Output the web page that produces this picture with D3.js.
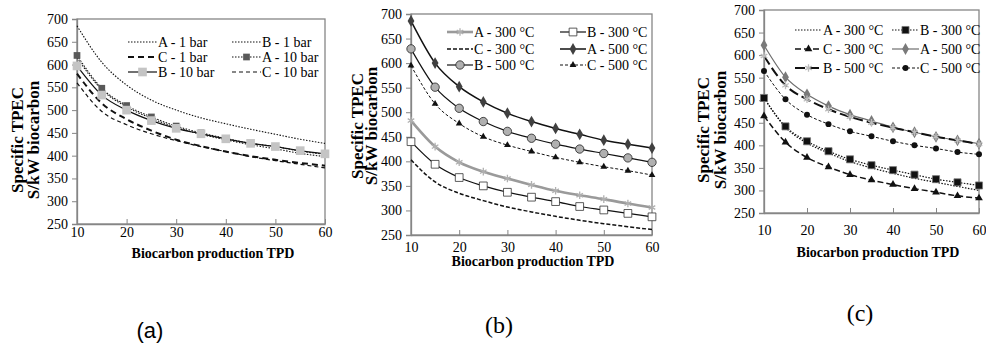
<!DOCTYPE html>
<html>
<head>
<meta charset="utf-8">
<script src="https://cdn.jsdelivr.net/npm/d3@7"></script>
<style>
  body { margin: 0; background: #fff; }
  svg { display: block; }
  svg text { font-family: "Times New Roman", "Liberation Serif", Times, "DejaVu Serif", serif; fill: #000; }
</style>
</head>
<body>
<svg id="chart" width="986" height="347"></svg>
<script>
// x positions shared by all panels (t/day)
var xValues = [10, 15, 20, 25, 30, 35, 40, 45, 50, 55, 60];
var xTicks = [10, 20, 30, 40, 50, 60];
var yTicks = [250, 300, 350, 400, 450, 500, 550, 600, 650, 700];

// panel (a) - pressure
var aA1bar  = [685, 605, 555, 522, 500, 483, 470, 458, 447, 436, 427];
var aB1bar  = [615, 545, 507, 482, 462, 447, 435, 424, 415, 405, 398];
var aC1bar  = [580, 515, 480, 455, 435, 421, 409, 399, 391, 384, 378];
var aA10bar = [620, 548, 510, 485, 465, 450, 438, 427, 420, 410, 403];
var aB10bar = [597, 533, 500, 477, 460, 448, 437, 427, 420, 411, 404];
var aC10bar = [560, 497, 468, 448, 433, 420, 409, 398, 389, 381, 373];

// panel (b) - temperature
var bA300 = [483, 430, 398, 379, 365, 352, 340, 331, 323, 314, 306];
var bB300 = [440, 394, 367, 350, 337, 327, 318, 308, 301, 294, 287];
var bC300 = [403, 358, 335, 320, 307, 297, 288, 280, 273, 267, 261];
var bA500 = [686, 600, 552, 521, 498, 481, 467, 455, 443, 435, 427];
var bB500 = [629, 551, 508, 481, 461, 447, 435, 425, 416, 407, 398];
var bC500 = [595, 517, 477, 450, 433, 420, 408, 398, 389, 381, 372];

// panel (c)
var cA300 = [505, 440, 405, 383, 364, 350, 338, 327, 318, 309, 300];
var cB300 = [505, 442, 409, 387, 369, 356, 345, 335, 325, 318, 311];
var cC300 = [465, 407, 373, 352, 335, 323, 313, 304, 296, 288, 283];
var cA500 = [622, 551, 513, 487, 468, 454, 440, 429, 419, 411, 404];
var cB500 = [598, 533, 502, 480, 463, 450, 439, 429, 419, 411, 403];
var cC500 = [565, 502, 468, 447, 431, 420, 409, 400, 393, 385, 380];

var svg = d3.select("#chart");
var axisGrey = "#868686";
var serif = "'Times New Roman', 'Liberation Serif', Times, 'DejaVu Serif', serif";

var panels = [
  {
    box: {x0: 77, x1: 325, y0: 19, y1: 224},
    xLabY: 237, titleX: 213, titleY: 258, ytX: [17, 33], ytY: 140,
    tag: "(a)", tagX: 150, tagY: 338, tagFont: "'Liberation Sans', Arial, sans-serif", tagSize: 22,
    leg: {cols: [128, 232], len: 29, rows: [42, 57, 72]},
    series: [
      {name: "A - 1 bar",  v: aA1bar,  dash: "1.5,1.5", w: 1.1},
      {name: "B - 1 bar",  v: aB1bar,  dash: "1.5,1.5", w: 1.1},
      {name: "C - 1 bar",  v: aC1bar,  dash: "6,4", w: 2},
      {name: "A - 10 bar", v: aA10bar, dash: "1.5,1.5", w: 1.1, sym: d3.symbolSquare, size: 45, fill: "#595959"},
      {name: "B - 10 bar", v: aB10bar, w: 1.2, sym: d3.symbolSquare, size: 75, fill: "#c4c4c4"},
      {name: "C - 10 bar", v: aC10bar, dash: "4,3", w: 1.2}
    ]
  },
  {
    box: {x0: 411, x1: 652, y0: 14, y1: 235},
    xLabY: 252, titleX: 533, titleY: 266, ytX: [357, 371], ytY: 126,
    tag: "(b)", tagX: 499, tagY: 333, tagFont: serif, tagSize: 24,
    leg: {cols: [447, 560], len: 26, rows: [32, 49, 65]},
    series: [
      {name: "A - 300 °C", v: bA300, w: 2.6, color: "#9a9a9a", sym: d3.symbolAsterisk, size: 40, fill: "none", stroke: "#b0b0b0"},
      {name: "B - 300 °C", v: bB300, w: 1.2, sym: d3.symbolSquare, size: 60, fill: "#fff", stroke: "#333"},
      {name: "C - 300 °C", v: bC300, dash: "4,2", w: 1.5},
      {name: "A - 500 °C", v: bA500, w: 1.5, sym: d3.symbolDiamond, size: 40, fill: "#404040"},
      {name: "B - 500 °C", v: bB500, w: 1.2, sym: d3.symbolCircle, size: 55, fill: "#b0b0b0", stroke: "#222"},
      {name: "C - 500 °C", v: bC500, dash: "3,2", w: 1, sym: d3.symbolTriangle, size: 20, fill: "#111"}
    ]
  },
  {
    box: {x0: 764, x1: 979, y0: 10, y1: 213},
    xLabY: 235, titleX: 878, titleY: 257, ytX: [703, 720], ytY: 130,
    tag: "(c)", tagX: 860, tagY: 321, tagFont: serif, tagSize: 24,
    leg: {cols: [795, 892], len: 27, rows: [30, 49, 68]},
    series: [
      {name: "A - 300 °C", v: cA300, dash: "1.5,1.5", w: 1.2},
      {name: "B - 300 °C", v: cB300, dash: "1.5,1.5", w: 1.2, sym: d3.symbolSquare, size: 50, fill: "#111", stroke: "#777"},
      {name: "C - 300 °C", v: cC300, dash: "6,3", w: 1.5, sym: d3.symbolTriangle, size: 26, fill: "#111"},
      {name: "A - 500 °C", v: cA500, w: 1.2, color: "#6e6e6e", sym: d3.symbolDiamond, size: 40, fill: "#7a7a7a"},
      {name: "B - 500 °C", v: cB500, dash: "10,4", w: 2, sym: d3.symbolAsterisk, size: 40, fill: "none", stroke: "#bdbdbd"},
      {name: "C - 500 °C", v: cC500, dash: "3,2", w: 1, sym: d3.symbolCircle, size: 28, fill: "#111"}
    ]
  }
];

panels.forEach(function(p) {
  var b = p.box;
  var x = d3.scaleLinear().domain([10, 60]).range([b.x0, b.x1]);
  var y = d3.scaleLinear().domain([250, 700]).range([b.y1, b.y0]);
  var g = svg.append("g");

  // plot frame
  g.append("rect")
    .attr("x", b.x0).attr("y", b.y0)
    .attr("width", b.x1 - b.x0).attr("height", b.y1 - b.y0)
    .attr("fill", "none").attr("stroke", axisGrey).attr("stroke-width", 1.3);

  // y axis
  var ya = g.append("g").attr("transform", "translate(" + b.x0 + ",0)")
    .call(d3.axisLeft(y).tickValues(yTicks).tickSize(5).tickPadding(4));
  ya.attr("font-family", serif);
  ya.select(".domain").attr("stroke", axisGrey).attr("stroke-width", 1.3);
  ya.selectAll(".tick line").attr("stroke", axisGrey);
  ya.selectAll(".tick text").attr("font-size", 14).attr("fill", "#222");

  // x axis, ticks inside
  var xa = g.append("g").attr("transform", "translate(0," + b.y1 + ")")
    .call(d3.axisBottom(x).tickValues(xTicks).tickSizeInner(-5).tickSizeOuter(0).tickFormat(d3.format("d")));
  xa.attr("font-family", serif);
  xa.select(".domain").attr("stroke", axisGrey).attr("stroke-width", 1.3);
  xa.selectAll(".tick line").attr("stroke", axisGrey);
  xa.selectAll(".tick text").attr("font-size", 14).attr("fill", "#222")
    .attr("y", p.xLabY - b.y1).attr("dy", 0);

  // titles
  g.append("text").attr("x", p.titleX).attr("y", p.titleY)
    .attr("text-anchor", "middle").attr("font-size", 14).attr("font-weight", "bold")
    .text("Biocarbon production TPD");
  ["Specific TPEC", "S/kW biocarbon"].forEach(function(t, i) {
    g.append("text")
      .attr("transform", "translate(" + (p.ytX[i] + 6) + "," + p.ytY + ") rotate(-90)")
      .attr("text-anchor", "middle").attr("font-size", 17).attr("font-weight", "bold")
      .text(t);
  });
  g.append("text").attr("x", p.tagX).attr("y", p.tagY)
    .attr("text-anchor", "middle").attr("font-size", p.tagSize)
    .style("font-family", p.tagFont)
    .text(p.tag);

  var line = d3.line()
    .x(function(d, i) { return x(xValues[i]); })
    .y(function(d) { return y(d); })
    .curve(d3.curveMonotoneX);

  p.series.forEach(function(s, k) {
    var col = s.color || "#111";
    g.append("path").datum(s.v)
      .attr("d", line)
      .attr("fill", "none").attr("stroke", col)
      .attr("stroke-width", s.w)
      .attr("stroke-dasharray", s.dash || null);
    var sym = s.sym ? d3.symbol().type(s.sym).size(s.size) : null;
    if (sym) {
      g.selectAll(null).data(s.v).enter().append("path")
        .attr("d", sym)
        .attr("transform", function(d, i) { return "translate(" + x(xValues[i]) + "," + y(d) + ")"; })
        .attr("fill", s.fill)
        .attr("stroke", s.stroke || "none")
        .attr("stroke-width", s.fill === "none" ? 1.3 : 0.8);
    }
    // legend entry
    var lx = p.leg.cols[k % 2], ly = p.leg.rows[Math.floor(k / 2)];
    g.append("line")
      .attr("x1", lx).attr("x2", lx + p.leg.len).attr("y1", ly).attr("y2", ly)
      .attr("stroke", col).attr("stroke-width", s.w)
      .attr("stroke-dasharray", s.dash || null);
    if (sym) {
      g.append("path").attr("d", sym)
        .attr("transform", "translate(" + (lx + p.leg.len / 2) + "," + ly + ")")
        .attr("fill", s.fill).attr("stroke", s.stroke || "none")
        .attr("stroke-width", s.fill === "none" ? 1.3 : 0.8);
    }
    g.append("text").attr("x", lx + p.leg.len + 1).attr("y", ly + 5)
      .attr("font-size", 14).text(s.name);
  });
});
</script>
</body>
</html>
